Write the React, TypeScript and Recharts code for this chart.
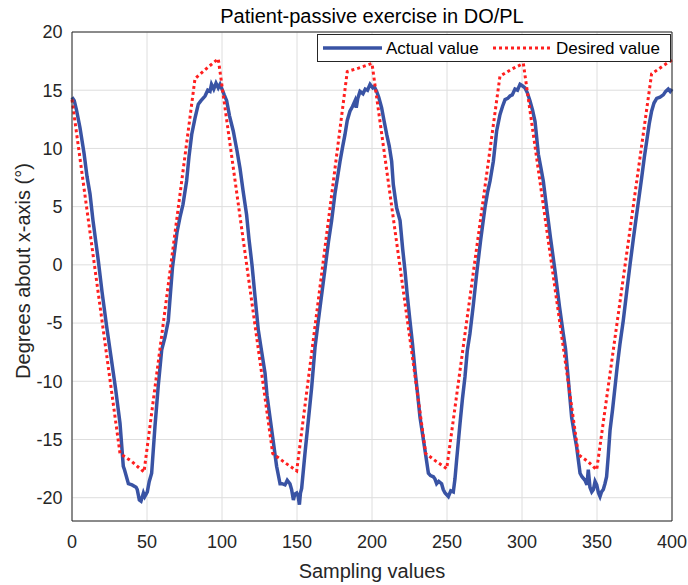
import { LineChart, Line, XAxis, YAxis, CartesianGrid } from "recharts";

const xTicks = [0, 50, 100, 150, 200, 250, 300, 350, 400];
const yTicks = [-20, -15, -10, -5, 0, 5, 10, 15, 20];

// measured joint angle (sample index, degrees)
const actualPoints: [number, number][] = [
  [0, 14.4], [1.5, 14.1], [3, 13.3], [5.3, 11.8], [8, 9.6], [10, 7.6], [12, 6.1], [14, 3.8],
  [17.5, 0.4], [20, -2.3], [23, -5.2], [26, -7.9], [29, -10.6], [32, -13.6], [34.2, -17.3],
  [35, -17.6], [37.6, -18.8], [40, -18.9], [42.7, -19.1], [43.5, -19.3], [44.9, -20.2],
  [46, -20.3], [47.6, -19.6], [48.5, -19.9], [50.2, -19.5], [51.5, -18.6], [53.1, -17.9],
  [55.3, -13.9], [57.5, -10.4], [59.8, -7.3], [62, -6.2], [64.2, -4.8], [67, -0.2], [70, 2.8],
  [72, 4.1], [74, 5.2], [76.4, 7.2], [78, 9.3], [79.8, 11.2], [82, 12.6], [84.2, 13.8],
  [86, 14.1], [88.7, 14.5], [90.5, 15.0], [92, 14.9], [93, 15.5], [94.5, 15.1], [96, 15.6],
  [97.5, 15.2], [98.7, 15.5], [100, 15.1], [101.5, 14.6], [103.1, 14.1], [105, 12.8],
  [107.5, 11.5], [110, 9.8], [112, 8.3], [114, 6.4], [116.4, 4.3], [118, 2.2], [120, 0],
  [122, -2.7], [124.2, -5.6], [126, -7.1], [128.7, -9.3], [130, -11.2], [132, -13.1],
  [134.2, -15.2], [136.4, -17.3], [138.7, -18.8], [140, -18.8], [142, -18.9], [143.5, -18.5],
  [145.3, -18.8], [146.4, -19.3], [147.6, -20.2], [148.5, -19.7], [149.8, -19.6],
  [150.8, -19.9], [151.6, -20.6], [152.3, -19.6], [153.1, -19.2], [155.3, -16.2],
  [157.6, -13.3], [159.8, -10.5], [162, -7.1], [164.2, -4.8], [166, -3.0], [168.5, -0.5],
  [171, 2.0], [173.1, 3.8], [175.3, 6.1], [177, 7.5], [178.7, 8.9], [180.5, 10.2], [182, 11.2],
  [183.5, 12.4], [185.3, 13.2], [187, 13.6], [188.7, 14.1], [189.5, 13.5], [190.5, 14.3],
  [192, 14.9], [194, 14.7], [195.5, 15.1], [197, 15.0], [198.7, 15.5], [200.5, 15.2],
  [201.5, 15.3], [203.1, 14.9], [204.5, 14.4], [206.4, 13.5], [208, 12.4], [209.8, 11.2],
  [211.5, 10.2], [213.1, 8.9], [214.2, 6.9], [216.4, 4.9], [218.7, 3.8], [220.5, 1.3],
  [222, -0.5], [223.5, -2.6], [225.3, -4.8], [227, -6.8], [228.7, -9.1], [230.5, -11.2],
  [232, -13.1], [235.3, -15.9], [237.6, -17.9], [239, -18.1], [240.9, -18.2], [242, -18.4],
  [243.1, -18.8], [244.5, -18.6], [246.4, -18.8], [247.5, -19.3], [248.7, -19.6],
  [250.9, -19.9], [252.5, -19.4], [254.2, -19.5], [255.3, -18.4], [256.4, -16.8],
  [258.7, -13.6], [260.3, -11.5], [262, -9.6], [263.5, -7.4], [265.3, -5.9], [267.5, -3.5],
  [270, -0.5], [272.5, 2.2], [275.3, 4.9], [277, 6.2], [278.7, 7.2], [280.9, 8.9],
  [283.1, 11.5], [285.3, 12.9], [287, 13.6], [288.7, 14.2], [290.5, 14.3], [292, 14.5],
  [293.5, 14.6], [295.3, 15.1], [297, 15.0], [298.7, 15.5], [300, 15.4], [302, 15.2],
  [303.5, 14.8], [305.3, 14.1], [307, 13.3], [308.7, 12.3], [310.9, 9.5], [312.5, 8.4],
  [314.2, 7.2], [316.4, 4.9], [319, 2.3], [322, -0.5], [325, -3.6], [327.5, -5.9],
  [329, -7.2], [330.9, -9.9], [333.1, -13.1], [335, -14.6], [336.4, -15.6], [338.7, -17.9],
  [340, -18.2], [342, -18.5], [343.3, -18.9], [344.2, -17.6], [345.3, -19.1], [346.5, -19.5],
  [347.6, -19.3], [348.7, -18.6], [349.8, -18.9], [351, -19.6], [352, -19.9], [353, -19.5],
  [354.2, -19.3], [355.3, -18.8], [356.4, -18.2], [357.5, -16.4], [358.7, -14.2],
  [360.4, -12.4], [362, -10.5], [363.5, -8.7], [365.3, -6.8], [367.5, -4.8], [370, -2.1],
  [372, 0], [374.3, 2.3], [376.4, 4.3], [378, 5.8], [379.8, 7.5], [381.5, 9.2], [383.1, 10.6],
  [384.8, 12.1], [386.4, 13.2], [388, 13.9], [389.8, 14.3], [392, 14.4], [394.2, 14.6],
  [395.8, 14.9], [397.5, 15.1], [398.8, 14.9], [400, 15.1],
];

// reference trajectory
const desiredPoints: [number, number][] = [
  [0, 14.2], [32, -16.2], [40, -16.9], [48, -17.8], [82, 16.0], [90, 16.9], [97.5, 17.7],
  [133.8, -16.2], [141, -16.9], [149.8, -17.7], [183.5, 16.6], [191, 16.9], [200, 17.3],
  [235.8, -16.2], [243, -16.9], [249.8, -17.5], [285.3, 16.2], [293, 16.8], [300.9, 17.3],
  [337.6, -16.3], [344, -16.9], [349.8, -17.6], [386.4, 16.4], [393, 17.0], [400, 17.6],
];

const actual = actualPoints.map(([x, y]) => ({ x, y }));
const desired = desiredPoints.map(([x, y]) => ({ x, y }));

const FONT = "'Liberation Sans', Arial, Helvetica, sans-serif";
const INK = "#262626";
const BLUE = "#3953a4";
const RED = "#ff1f1f";
const DOTS = "3 3";

function Overlay() {
  return (
    <svg width={688} height={585} style={{ position: "absolute", left: 0, top: 0, pointerEvents: "none" }}>
      <text x={372} y={22.5} textAnchor="middle" fontSize={20} fontFamily={FONT} fill="#000">
        Patient-passive exercise in DO/PL
      </text>
      <rect x={317.5} y={34.5} width={353} height={27} fill="#fff" stroke={INK} strokeWidth={1} />
      <line x1={323} y1={48} x2={382} y2={48} stroke={BLUE} strokeWidth={3.5} />
      <text x={386} y={54} fontSize={17} fontFamily={FONT} fill="#000">Actual value</text>
      <line x1={493} y1={48} x2={552} y2={48} stroke={RED} strokeWidth={3} strokeDasharray={DOTS} />
      <text x={556} y={54} fontSize={17} fontFamily={FONT} fill="#000">Desired value</text>
    </svg>
  );
}

export default function App() {
  const tickStyle = { fill: INK, fontSize: 18, fontFamily: FONT };
  return (
    <div style={{ position: "absolute", left: 0, top: 0, width: 688, height: 585, background: "#fff" }}>
      <LineChart width={688} height={585} data={actual} margin={{ top: 32, right: 16, left: 0, bottom: 0 }}>
        <CartesianGrid stroke="#dedede" strokeWidth={1} />
        <XAxis
          dataKey="x" type="number" domain={[0, 400]} ticks={xTicks} interval={0}
          height={64} tickLine={false} tickSize={0} tickMargin={14}
          axisLine={{ stroke: INK }} tick={tickStyle}
          label={{ value: "Sampling values", position: "insideBottom", offset: 7, fontSize: 20, fontFamily: FONT, fill: INK }}
        />
        <YAxis
          type="number" domain={[-22, 20]} ticks={yTicks} interval={0}
          width={72} tickLine={false} tickSize={0} tickMargin={9.5}
          axisLine={{ stroke: INK }} tick={tickStyle}
          label={{
            content: () => (
              <text x={30} y={271} transform="rotate(-90 30 271)" textAnchor="middle" fontSize={20} fontFamily={FONT} fill={INK}>
                Degrees about x-axis (°)
              </text>
            ),
          }}
        />
        {/* inward ticks and box like the original figure */}
        <XAxis xAxisId="top" orientation="top" mirror type="number" domain={[0, 400]} ticks={xTicks} interval={0}
          height={10} tick={false} tickSize={5} tickLine={{ stroke: INK }} axisLine={{ stroke: INK }} />
        <XAxis xAxisId="bm" orientation="bottom" mirror type="number" domain={[0, 400]} ticks={xTicks} interval={0}
          height={10} tick={false} tickSize={5} tickLine={{ stroke: INK }} axisLine={false} />
        <YAxis yAxisId="rm" orientation="right" mirror type="number" domain={[-22, 20]} ticks={yTicks} interval={0}
          width={10} tick={false} tickSize={5} tickLine={{ stroke: INK }} axisLine={{ stroke: INK }} />
        <YAxis yAxisId="lm" orientation="left" mirror type="number" domain={[-22, 20]} ticks={yTicks} interval={0}
          width={10} tick={false} tickSize={5} tickLine={{ stroke: INK }} axisLine={false} />
        <Line data={actual} dataKey="y" type="linear" stroke={BLUE} strokeWidth={3.5} dot={false} isAnimationActive={false} />
        <Line data={desired} dataKey="y" type="linear" stroke={RED} strokeWidth={3} strokeDasharray={DOTS} dot={false} isAnimationActive={false} />
      </LineChart>
      <Overlay />
    </div>
  );
}
